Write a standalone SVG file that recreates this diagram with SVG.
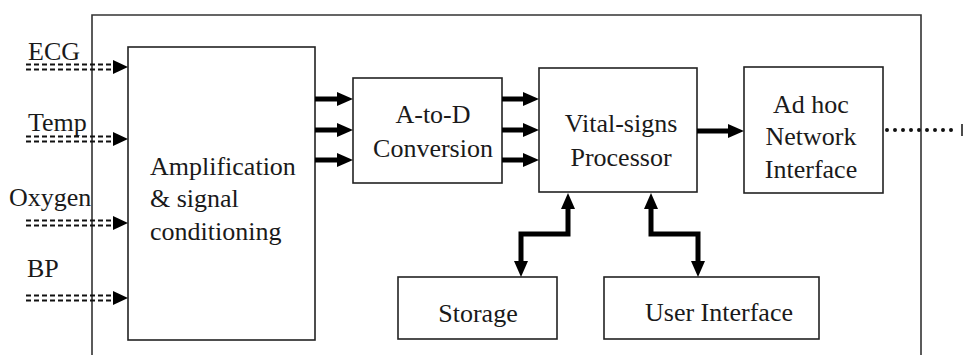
<svg xmlns="http://www.w3.org/2000/svg" width="964" height="355" viewBox="0 0 964 355">
<style>
  .box { fill: #ffffff; stroke: #222222; stroke-width: 1.6; }
  .frame { fill: none; stroke: #333333; stroke-width: 1.6; }
  .t { font-family: "Liberation Serif", "Times New Roman", serif; font-size: 26px; fill: #1a1a1a; }
  .c { text-anchor: middle; }
  .thick { fill: none; stroke: #000000; stroke-width: 5; stroke-linejoin: miter; }
  .dash { fill: none; stroke: #111111; stroke-width: 2; stroke-dasharray: 5 3; }
  .dots { fill: none; stroke: #111111; stroke-width: 4; stroke-linecap: round; stroke-dasharray: 0 8; }
  .head { fill: #000000; }
</style>
<defs>
  <marker id="ah" markerUnits="userSpaceOnUse" markerWidth="16" markerHeight="14" refX="4" refY="7" orient="auto-start-reverse">
    <path d="M0,0 L16,7 L0,14 Z" fill="#000000"/>
  </marker>
</defs>

<g id="frame">
  <path class="frame" d="M92,356 L92,15 L921,15 L921,356"/>
</g>

<g id="labels">
  <text class="t" x="28" y="60">ECG</text>
  <text class="t" x="28" y="131">Temp</text>
  <text class="t" x="9" y="206">Oxygen</text>
  <text class="t" x="27" y="277">BP</text>
</g>

<g id="amp">
  <rect class="box" x="128" y="47" width="187" height="293"/>
  <text class="t" x="150" y="175">Amplification</text>
  <text class="t" x="150" y="207">&amp; signal</text>
  <text class="t" x="150" y="240">conditioning</text>
</g>

<g id="atod">
  <rect class="box" x="353" y="78" width="149" height="105"/>
  <text class="t c" x="433" y="123">A-to-D</text>
  <text class="t c" x="433" y="157">Conversion</text>
</g>

<g id="vital">
  <rect class="box" x="539" y="68" width="158" height="124"/>
  <text class="t c" x="621" y="132">Vital-signs</text>
  <text class="t c" x="621" y="166">Processor</text>
</g>

<g id="adhoc">
  <rect class="box" x="744" y="67" width="139" height="126"/>
  <text class="t c" x="811" y="113">Ad hoc</text>
  <text class="t c" x="811" y="145">Network</text>
  <text class="t c" x="811" y="178">Interface</text>
</g>

<g id="storage">
  <rect class="box" x="398" y="277" width="159" height="62"/>
  <text class="t c" x="478" y="322">Storage</text>
</g>

<g id="ui">
  <rect class="box" x="604" y="277" width="215" height="62"/>
  <text class="t c" x="719" y="321">User Interface</text>
</g>

<g id="connectors">
  <!-- sensor inputs -->
  <line class="dash" x1="26" y1="64.5" x2="116" y2="64.5"/>
  <line class="dash" x1="26" y1="69.5" x2="116" y2="69.5"/>
  <polygon class="head" points="113,60 128,67 113,74"/>
  <line class="dash" x1="26" y1="136.5" x2="116" y2="136.5"/>
  <line class="dash" x1="26" y1="141.5" x2="116" y2="141.5"/>
  <polygon class="head" points="113,132 128,139 113,146"/>
  <line class="dash" x1="26" y1="220.5" x2="116" y2="220.5"/>
  <line class="dash" x1="26" y1="225.5" x2="116" y2="225.5"/>
  <polygon class="head" points="113,216 128,223 113,230"/>
  <line class="dash" x1="26" y1="295.5" x2="116" y2="295.5"/>
  <line class="dash" x1="26" y1="300.5" x2="116" y2="300.5"/>
  <polygon class="head" points="113,291 128,298 113,305"/>

  <!-- amp to A/D -->
  <line class="thick" x1="315" y1="99" x2="341" y2="99" marker-end="url(#ah)"/>
  <line class="thick" x1="315" y1="130" x2="341" y2="130" marker-end="url(#ah)"/>
  <line class="thick" x1="315" y1="160" x2="341" y2="160" marker-end="url(#ah)"/>

  <!-- A/D to processor -->
  <line class="thick" x1="502" y1="99" x2="527" y2="99" marker-end="url(#ah)"/>
  <line class="thick" x1="502" y1="130" x2="527" y2="130" marker-end="url(#ah)"/>
  <line class="thick" x1="502" y1="160" x2="527" y2="160" marker-end="url(#ah)"/>

  <!-- processor to ad hoc -->
  <line class="thick" x1="697" y1="131" x2="732" y2="131" marker-end="url(#ah)"/>

  <!-- processor <-> storage -->
  <path class="thick" d="M521,265 L521,234 L568,234 L568,205" marker-start="url(#ah)" marker-end="url(#ah)"/>
  <!-- processor <-> user interface -->
  <path class="thick" d="M651,205 L651,234 L698,234 L698,265" marker-start="url(#ah)" marker-end="url(#ah)"/>

  <!-- ad hoc wireless link -->
  <line class="dots" x1="887" y1="130" x2="959" y2="130"/>
  <line stroke="#111111" stroke-width="1.5" x1="962" y1="124" x2="962" y2="136"/>
</g>
</svg>
